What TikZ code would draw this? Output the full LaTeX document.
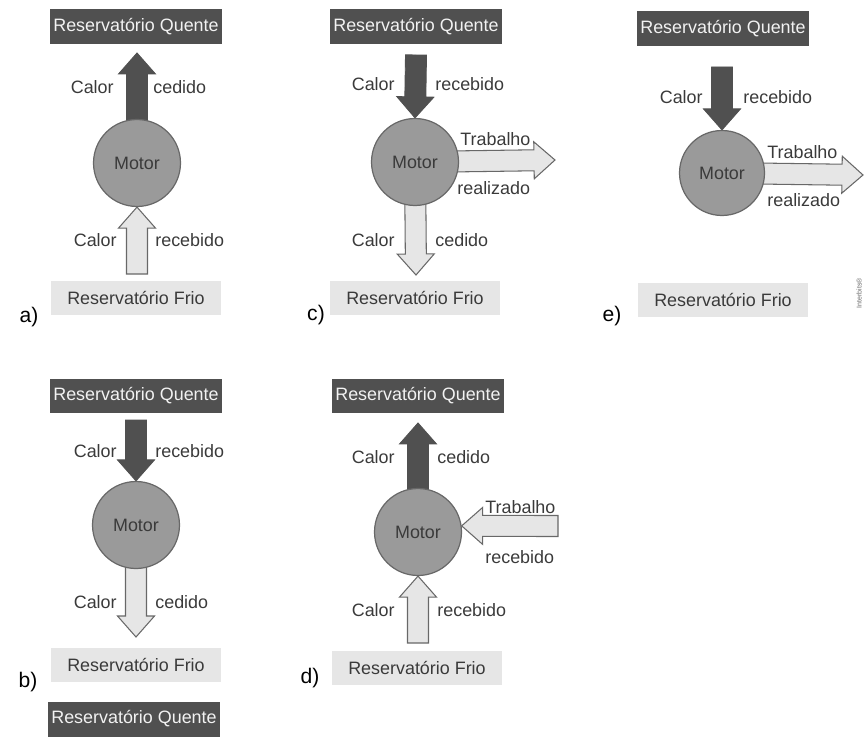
\documentclass[tikz,border=0pt]{standalone}
\usepackage{fontspec}
\setmainfont{Liberation Sans}
\usetikzlibrary{calc,backgrounds}

\definecolor{cinzaescuro}{HTML}{505050}
\definecolor{cinzamedio}{HTML}{9A9A9A}
\definecolor{cinzaclaro}{HTML}{E6E6E6}
\definecolor{contorno}{HTML}{686868}
\definecolor{textoescuro}{HTML}{3A3A3A}
\definecolor{textoclaro}{HTML}{F2F2F2}

\tikzstyle{quente}=[rectangle,fill=cinzaescuro,text=textoclaro,minimum width=3.44cm,minimum height=0.7cm,inner sep=0pt]
\tikzstyle{frio}=[rectangle,fill=cinzaclaro,text=textoescuro,minimum width=3.42cm,minimum height=0.68cm,inner sep=0pt]
\tikzstyle{motor}=[circle,fill=cinzamedio,draw=contorno,line width=0.7pt,minimum size=1.74cm,inner sep=0pt,text=textoescuro]
\tikzstyle{rotulo}=[inner sep=0pt,text=textoescuro]
\tikzstyle{letra}=[inner sep=0pt,text=black,font=\fontsize{12}{14}\selectfont]
\tikzstyle{seta}=[to path={
    ($(\tikztotarget)!0.42cm!(\tikztostart)$) coordinate (hb)
    ($(\tikztostart)!0.21cm!90:(\tikztotarget)$) -- ($(hb)!0.21cm!90:(\tikztotarget)$)
    -- ($(hb)!0.37cm!90:(\tikztotarget)$) -- (\tikztotarget)
    -- ($(hb)!0.37cm!-90:(\tikztotarget)$) -- ($(hb)!0.21cm!-90:(\tikztotarget)$)
    -- ($(\tikztostart)!0.21cm!-90:(\tikztotarget)$) -- cycle}]
\tikzstyle{seta escura}=[seta,fill=cinzaescuro,draw=cinzaescuro,line width=0.5pt]
\tikzstyle{seta clara}=[seta,fill=cinzaclaro,draw=contorno,line width=0.6pt]

\begin{document}
\begin{tikzpicture}[x=0.02cm,y=-0.02cm,font=\fontsize{10.2}{12}\selectfont]
	\useasboundingbox (0,0) rectangle (864,736);
	% reservatorios e motores
	\node[quente] (qa) at (136,27) {Reservatório Quente};
	\node[motor] (ma) at (137,163) {Motor};
	\node[frio] (fa) at (136,298) {Reservatório Frio};
	\node[quente] (qb) at (136,396) {Reservatório Quente};
	\node[motor] (mb) at (136,525) {Motor};
	\node[frio] (fb) at (136,665) {Reservatório Frio};
	\node[quente] (qx) at (134,719) {Reservatório Quente};
	\node[quente] (qc) at (416,27) {Reservatório Quente};
	\node[motor] (mc) at (415,162) {Motor};
	\node[frio] (fc) at (415,298) {Reservatório Frio};
	\node[quente] (qd) at (418,396) {Reservatório Quente};
	\node[motor] (md) at (418,532) {Motor};
	\node[frio] (fd) at (417,668) {Reservatório Frio};
	\node[quente] (qe) at (723,29) {Reservatório Quente};
	\node[motor,minimum size=1.7cm] (me) at (722,173) {Motor};
	\node[frio] (fe) at (723,300) {Reservatório Frio};
	% pontas livres das setas
	\coordinate (ta) at (137,53);
	\coordinate (ba) at (137,274);
	\coordinate (sb) at (136,420);
	\coordinate (tb) at (136,637);
	\coordinate (sc) at (416,55);
	\coordinate (tc) at (416,275);
	\coordinate (wc) at (555,160);
	\coordinate (td) at (418,423);
	\coordinate (bd) at (418,643);
	\coordinate (wd) at (558,526);
	\coordinate (se) at (722,67);
	\coordinate (we) at (863,175);
	% setas (atras dos motores)
	\begin{pgfonlayer}{background}
		\foreach \source/ \dest in {ma.center/ta, sb/mb.north, sc/mc.north, md.center/td, se/me.north}
			\path[seta escura] (\source) to (\dest);
		\foreach \source/ \dest in {ba/ma.south, mb.center/tb, mc.center/tc, mc.center/wc, bd/md.south, wd/md.8, me.center/we}
			\path[seta clara] (\source) to (\dest);
	\end{pgfonlayer}
	% rotulos
	\node[rotulo,anchor=east] (a1) at (114,87) {Calor};
	\node[rotulo,anchor=west] (a2) at (153,87) {cedido};
	\node[rotulo,anchor=east] (a3) at (117,240) {Calor};
	\node[rotulo,anchor=west] (a4) at (155,240) {recebido};
	\node[rotulo,anchor=east] (b1) at (117,451) {Calor};
	\node[rotulo,anchor=west] (b2) at (155,451) {recebido};
	\node[rotulo,anchor=east] (b3) at (117,602) {Calor};
	\node[rotulo,anchor=west] (b4) at (155,602) {cedido};
	\node[rotulo,anchor=east] (c1) at (395,84) {Calor};
	\node[rotulo,anchor=west] (c2) at (435,84) {recebido};
	\node[rotulo,anchor=east] (c3) at (395,240) {Calor};
	\node[rotulo,anchor=west] (c4) at (435,240) {cedido};
	\node[rotulo,anchor=west] (c5) at (460,139) {Trabalho};
	\node[rotulo,anchor=west] (c6) at (457,188) {realizado};
	\node[rotulo,anchor=east] (d1) at (395,457) {Calor};
	\node[rotulo,anchor=west] (d2) at (437,457) {cedido};
	\node[rotulo,anchor=east] (d3) at (395,610) {Calor};
	\node[rotulo,anchor=west] (d4) at (437,610) {recebido};
	\node[rotulo,anchor=west] (d5) at (485,507) {Trabalho};
	\node[rotulo,anchor=west] (d6) at (485,557) {recebido};
	\node[rotulo,anchor=east] (e1) at (703,97) {Calor};
	\node[rotulo,anchor=west] (e2) at (743,97) {recebido};
	\node[rotulo,anchor=west] (e3) at (767,152) {Trabalho};
	\node[rotulo,anchor=west] (e4) at (767,200) {realizado};
	% letras das alternativas
	\foreach \l/\x/\y in {a/29/317, b/28/682, c/316/315, d/310/678, e/612/316}
		\node[letra] (l\l) at (\x,\y) {\l)};
	\node[rotulo,rotate=90,font=\fontsize{4}{5}\selectfont,text=contorno] (marca) at (859,293) {Interbits®};
\end{tikzpicture}
\end{document}
